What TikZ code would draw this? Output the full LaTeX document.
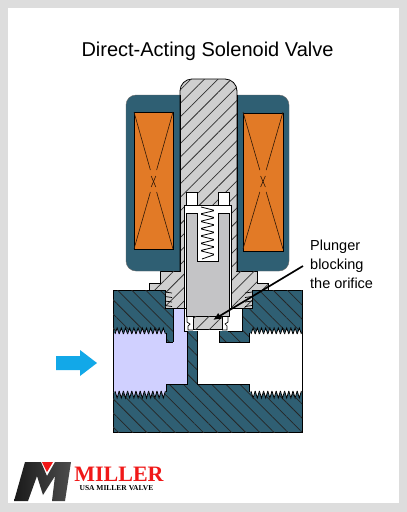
\documentclass[tikz,border=0pt]{standalone}
\usepackage{fontspec}
\setmainfont{Liberation Sans}
\newfontfamily\serifb{Liberation Serif}
\usetikzlibrary{patterns.meta,arrows.meta}
\definecolor{teal}{HTML}{2F5F73}
\definecolor{orng}{HTML}{E27A26}
\definecolor{lgray}{HTML}{CFCFCF}
\definecolor{pgray}{HTML}{C4C4C6}
\definecolor{lblue}{HTML}{D0D0FF}
\definecolor{frame}{HTML}{DDDDDD}
\definecolor{cyanarrow}{HTML}{12A8E8}
\definecolor{logored}{HTML}{F01818}
\tikzset{
  steelhatch/.style={fill=lgray,draw=black,line width=.8pt,postaction={pattern={Lines[angle=45,distance=9.5pt,line width=.75pt]},pattern color=black!80}},
  bodyhatch/.style={fill=teal,draw=black,line width=.9pt,postaction={pattern={Lines[angle=-45,distance=10pt,line width=.75pt]},pattern color=black!85}},
  cavity/.style={draw=black,line width=.8pt},
  lbl/.style={font=\fontsize{14.5}{17.5}\selectfont,align=left,anchor=west,inner sep=0pt},
  coilbox/.style={fill=orng,draw=black,line width=.5pt},
  xline/.style={draw=black!80!orng,line width=.6pt}
}
\begin{document}
\begin{tikzpicture}[x=1pt,y=-1pt]
\useasboundingbox (0,0) rectangle (407,512);
\fill[frame] (0,0) rectangle (407,512);
\fill[white] (8,8) rectangle (399,503);
% title
\node[inner sep=0pt,font=\fontsize{20}{23}\selectfont] (title) at (207.5,51) {Direct-Acting Solenoid Valve};
% coil housing
\fill[teal,draw=black!60,line width=.4pt,rounded corners=10pt] (126,95) rectangle (289,271);
\draw[coilbox] (134,112) rectangle (173,249);
\draw[coilbox] (243,113) rectangle (283,251);
\foreach \a/\b in {134/173,243/283}{
  \draw[xline] (\a,112) -- ({\a+(\b-\a)*.42},170) ;
  \draw[xline] (\b,112) -- ({\a+(\b-\a)*.58},170) ;
  \draw[xline] (\a,249) -- ({\a+(\b-\a)*.42},192) ;
  \draw[xline] (\b,249) -- ({\a+(\b-\a)*.58},192) ;
  \draw[xline] ({\a+(\b-\a)*.44},176) -- ({\a+(\b-\a)*.56},187);
  \draw[xline] ({\a+(\b-\a)*.56},176) -- ({\a+(\b-\a)*.44},187);
}
% body
\path[bodyhatch] (113,290) -- (302,290) -- (302,432) -- (113,432) -- cycle;
% cavities
\fill[lblue] (113,333) -- (166,333) -- (166,342) -- (173,342) -- (173,308) -- (187,308) -- (187,384) -- (166,384) -- (166,392) -- (113,392) -- cycle;
\draw[cavity] (173,342) -- (166,342) -- (166,333);
\draw[cavity] (173,342) -- (173,308);
\draw[cavity] (187,330) -- (187,384) -- (166,384) -- (166,392);
\draw[cavity] (113,333) -- (113,392);
\fill[white] (197,330) rectangle (219,342);
\fill[white] (197,342) -- (249,342) -- (249,333) -- (302,333) -- (302,392) -- (249,392) -- (249,384) -- (197,384) -- cycle;
\draw[cavity] (197,330) -- (197,384) -- (249,384) -- (249,392);
\draw[cavity] (219,331) -- (219,342) -- (249,342) -- (249,333);
\draw[cavity] (302,333) -- (302,392);
\fill[white] (228,309) rectangle (242,331);
\draw[cavity] (228,331) -- (242,331) -- (242,309);
% threads
\foreach \x/\c in {115/lblue,251/white}{
  \foreach \i in {0,...,11}{
    \fill[\c,draw=black,line width=.8pt] ({\x+\i*4.2},334) -- ++(2.1,-6) -- ++(2.1,6);
    \fill[\c,draw=black,line width=.8pt] ({\x+\i*4.2},391) -- ++(2.1,7) -- ++(2.1,-7);
  }
}
% nut
\path[steelhatch] (160,271) -- (257,271) -- (257,283) -- (268,283) -- (268,290) -- (252,290) -- (252,308) -- (165,308) -- (165,290) -- (149,290) -- (149,283) -- (160,283) -- cycle;
% centre post
\path[steelhatch,rounded corners=12pt] (180,271) -- (180,79) -- (237,79) -- (237,271);
\fill[lgray] (181,268) rectangle (236,273);
\draw[line width=.8pt] (180,95) -- (180,271) (237,95) -- (237,271);
% nut threads
\foreach \i in {0,...,3}{
  \draw[line width=.7pt] (165,{292+\i*4.5}) -- (172,{293+\i*4.5});
  \draw[line width=.7pt] (252,{292+\i*4.5}) -- (245,{293+\i*4.5});
}
% sleeve and plunger
\fill[white,draw=black,line width=.6pt] (184,205) rectangle (231,308);
\fill[white,draw=black,line width=.6pt] (184,308) rectangle (187,331);
\fill[white,draw=black,line width=.6pt] (186,192) rectangle (197,205);
\fill[white,draw=black,line width=.6pt] (218,192) rectangle (229,205);
\fill[pgray,draw=black,line width=.6pt] (186,213) -- (197,213) -- (197,261) -- (218,261) -- (218,213) -- (229,213) -- (229,316) -- (186,316) -- cycle;
% spring
\draw[line width=.8pt,rounded corners=1.5pt] (201,207) -- (215,210.5) -- (200,214) -- (215,217.7) -- (200,221.4) -- (215,225) -- (200,228.7) -- (215,232.4) -- (200,236) -- (215,239.7) -- (200,243.4) -- (215,247) -- (200,250.7) -- (215,254.4) -- (202,259);
% plunger disc
\fill[white] (187,316) rectangle (228,331);
\draw[line width=.6pt] (186,316) -- (229,316);
\path[steelhatch] (193,316) rectangle (222,329);
\draw[line width=.7pt] (187,316) -- (187,322) -- (190,324) -- (188,326) -- (188,330) -- (193,330);
\draw[line width=.7pt] (228,316) -- (228,322) -- (225,324) -- (227,326) -- (227,330) -- (222,330);
% leader
\node[lbl] (plabel) at (310,264.5) {Plunger\\[1.5pt]blocking\\[1.5pt]the orifice};
\coordinate (tail) at (303,266);
\coordinate (tip) at (213,320);
\draw[line width=1.7pt,-{Latex[length=8pt,width=7pt]}] (tail) -- (tip);
% flow arrow
\fill[cyanarrow] (56,356) -- (80,356) -- (80,350) -- (97,363) -- (80,376) -- (80,370) -- (56,370) -- cycle;
% logo
\shade[left color=black!90,right color=black!70] (14,501) -- (25,462) -- (41,462) -- (47,476) -- (55,462) -- (71,462) -- (65,501) -- (52,501) -- (55,476) -- (43,495) -- (37,476) -- (28,501) -- cycle;
\fill[logored] (42,462) -- (53,462) -- (47,472) -- cycle;
\node[inner sep=0pt,text=logored,font=\serifb\bfseries\fontsize{22}{24}\selectfont] (miller) at (119,474) {MILLER};
\node[inner sep=0pt,text=black,font=\serifb\bfseries\fontsize{7.5}{9}\selectfont] (usa) at (116.5,488) {USA MILLER VALVE};
\end{tikzpicture}
\end{document}
